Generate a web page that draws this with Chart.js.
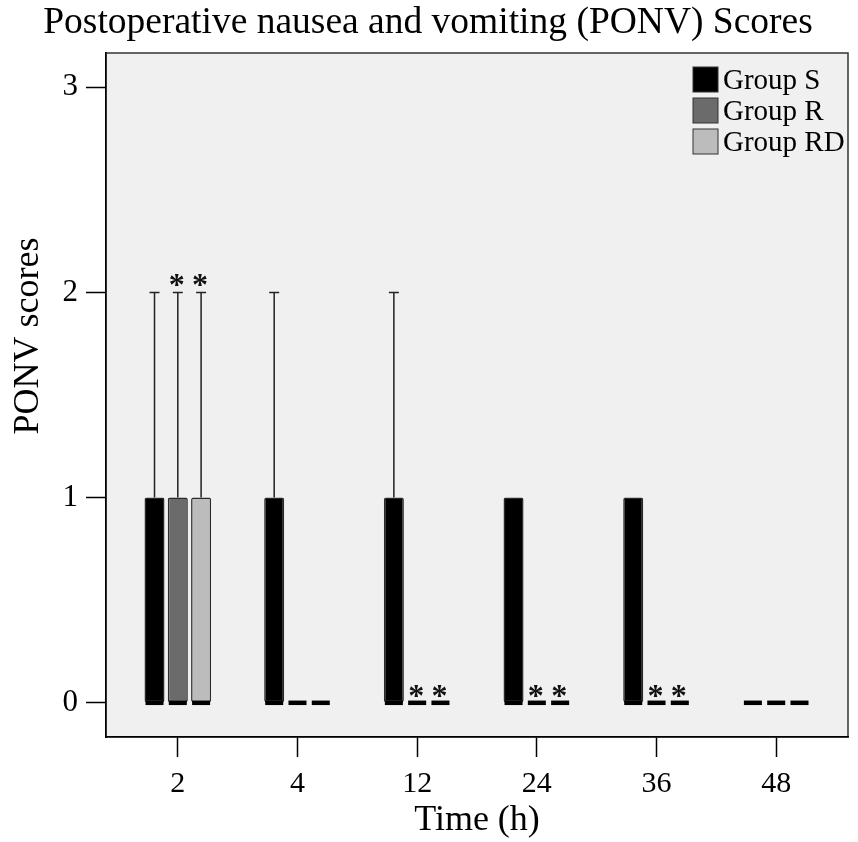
<!DOCTYPE html>
<html>
<head>
<meta charset="utf-8">
<title>PONV Scores</title>
<script src="https://cdn.jsdelivr.net/npm/chart.js@4/dist/chart.umd.min.js"></script>
<style>
  body { margin: 0; background: #fff; }
  #wrap { width: 858px; height: 842px; }
</style>
</head>
<body>
<div id="wrap"><canvas id="chart"></canvas></div>
<script>
// time points (h) and groups
const timeLabels = ['2', '4', '12', '24', '36', '48'];
const groupNames = ['Group S', 'Group R', 'Group RD'];
const yTicks = [0, 1, 2, 3];

// box plot values per group: lower quartile, upper quartile, median, upper whisker
const sQ1 = [0, 0, 0, 0, 0, 0];
const sQ3 = [1, 1, 1, 1, 1, 0];
const sMedian = [0, 0, 0, 0, 0, 0];
const sMax = [2, 2, 2, 1, 1, 0];

const rQ1 = [0, 0, 0, 0, 0, 0];
const rQ3 = [1, 0, 0, 0, 0, 0];
const rMedian = [0, 0, 0, 0, 0, 0];
const rMax = [2, 0, 0, 0, 0, 0];

const rdQ1 = [0, 0, 0, 0, 0, 0];
const rdQ3 = [1, 0, 0, 0, 0, 0];
const rdMedian = [0, 0, 0, 0, 0, 0];
const rdMax = [2, 0, 0, 0, 0, 0];

// significance marks (*) vs Group S
const sSig = [false, false, false, false, false, false];
const rSig = [true, false, true, true, true, false];
const rdSig = [true, false, true, true, true, false];

const groupColors = ['#000000', '#6b6b6b', '#bcbcbc'];
const SERIF = "'Liberation Serif', 'Times New Roman', serif";

const stats = [
    { q1: sQ1, q3: sQ3, med: sMedian, max: sMax, sig: sSig },
    { q1: rQ1, q3: rQ3, med: rMedian, max: rMax, sig: rSig },
    { q1: rdQ1, q3: rdQ3, med: rdMedian, max: rdMax, sig: rdSig }
];

function boxData(st) {
    return timeLabels.map((t, i) => ({ x: i, y: [st.q1[i], st.q3[i]] }));
}

// grey plot background and frame
const plotFrame = {
    id: 'plotFrame',
    beforeDraw(chart) {
        const { ctx, chartArea: a } = chart;
        ctx.save();
        ctx.fillStyle = '#f0f0f0';
        ctx.fillRect(a.left, a.top, a.right - a.left, a.bottom - a.top);
        ctx.strokeStyle = '#333';
        ctx.lineWidth = 1.5;
        ctx.strokeRect(a.left, a.top, a.right - a.left, a.bottom - a.top);
        ctx.restore();
    }
};

// whiskers, medians, asterisks, legend, y title
const boxExtras = {
    id: 'boxExtras',
    afterDatasetsDraw(chart) {
        const { ctx } = chart;
        const y = chart.scales.y;
        ctx.save();
        stats.forEach((st, d) => {
            const meta = chart.getDatasetMeta(d);
            meta.data.forEach((bar, i) => {
                const x = bar.x;
                const w = bar.width;
                const top = y.getPixelForValue(st.q3[i]);
                const yMax = y.getPixelForValue(st.max[i]);
                if (st.max[i] > st.q3[i]) {
                    ctx.strokeStyle = '#222';
                    ctx.lineWidth = 1.5;
                    ctx.beginPath();
                    ctx.moveTo(x, top);
                    ctx.lineTo(x, yMax);
                    ctx.moveTo(x - 5, yMax);
                    ctx.lineTo(x + 5, yMax);
                    ctx.stroke();
                }
                const ym = y.getPixelForValue(st.med[i]);
                ctx.strokeStyle = '#000';
                ctx.lineWidth = 4.5;
                ctx.beginPath();
                ctx.moveTo(x - w / 2 + 1, ym);
                ctx.lineTo(x + w / 2 - 1, ym);
                ctx.stroke();
                if (st.sig[i]) {
                    ctx.fillStyle = '#111';
                    ctx.font = 'bold 32px ' + SERIF;
                    ctx.textAlign = 'center';
                    ctx.textBaseline = 'alphabetic';
                    ctx.fillText('*', x - 1, Math.min(yMax, top) + 3);
                }
            });
        });

        // legend
        const a = chart.chartArea;
        ctx.font = '29px ' + SERIF;
        ctx.textAlign = 'left';
        ctx.textBaseline = 'middle';
        chart.data.datasets.forEach((ds, k) => {
            const top = a.top + 14 + k * 31;
            ctx.fillStyle = ds.backgroundColor;
            ctx.fillRect(a.left + 587, top, 25, 25);
            ctx.strokeStyle = '#333';
            ctx.lineWidth = 1;
            ctx.strokeRect(a.left + 587, top, 25, 25);
            ctx.fillStyle = '#000';
            ctx.fillText(ds.label, a.left + 617, top + 14);
        });

        // y axis title
        ctx.save();
        ctx.translate(38, 336);
        ctx.rotate(-Math.PI / 2);
        ctx.font = '36px ' + SERIF;
        ctx.textAlign = 'center';
        ctx.textBaseline = 'alphabetic';
        ctx.fillStyle = '#000';
        ctx.fillText('PONV scores', 0, 0);
        ctx.restore();
        ctx.restore();
    }
};

new Chart(document.getElementById('chart'), {
    type: 'bar',
    data: {
        datasets: groupNames.map((name, d) => ({
            label: name,
            data: boxData(stats[d]),
            backgroundColor: groupColors[d],
            borderColor: '#2a2a2a',
            borderWidth: 1.5,
            borderSkipped: false,
            borderRadius: 2,
            categoryPercentage: 0.584,
            barPercentage: 0.86
        }))
    },
    options: {
        responsive: true,
        maintainAspectRatio: false,
        animation: false,
        layout: { padding: { left: 8, right: 10, top: 0, bottom: 0 } },
        plugins: {
            legend: { display: false },
            tooltip: { enabled: false },
            title: {
                display: true,
                text: 'Postoperative nausea and vomiting (PONV) Scores',
                color: '#000',
                font: { family: SERIF, size: 37.5, weight: 'normal', lineHeight: 1.2 },
                padding: { top: 1, bottom: 7 }
            }
        },
        scales: {
            x: {
                type: 'linear',
                offset: false,
                min: -0.6,
                max: 5.6,
                afterBuildTicks: scale => { scale.ticks = timeLabels.map((t, i) => ({ value: i })); },
                afterFit: scale => { scale.height = 105; },
                grid: { offset: false, drawOnChartArea: false, drawTicks: true, tickLength: 20, tickColor: '#000', tickWidth: 1.5 },
                border: { display: true, color: '#000', width: 1.5 },
                ticks: {
                    color: '#000',
                    padding: 9,
                    font: { family: SERIF, size: 30 },
                    callback: (v) => timeLabels[v]
                },
                title: {
                    display: true,
                    text: 'Time (h)',
                    color: '#000',
                    font: { family: SERIF, size: 36, lineHeight: 1.2 },
                    padding: { top: 0, bottom: 0 }
                }
            },
            y: {
                min: -1 / 6,
                max: 3 + 1 / 6,
                afterBuildTicks: scale => { scale.ticks = yTicks.map(v => ({ value: v })); },
                afterFit: scale => { scale.width = 98; },
                grid: { drawOnChartArea: false, drawTicks: true, tickLength: 20, tickColor: '#000', tickWidth: 1.5 },
                border: { display: true, color: '#000', width: 1.5 },
                ticks: {
                    color: '#000',
                    padding: 8,
                    font: { family: SERIF, size: 31 }
                }
            }
        }
    },
    plugins: [plotFrame, boxExtras]
});
</script>
</body>
</html>
